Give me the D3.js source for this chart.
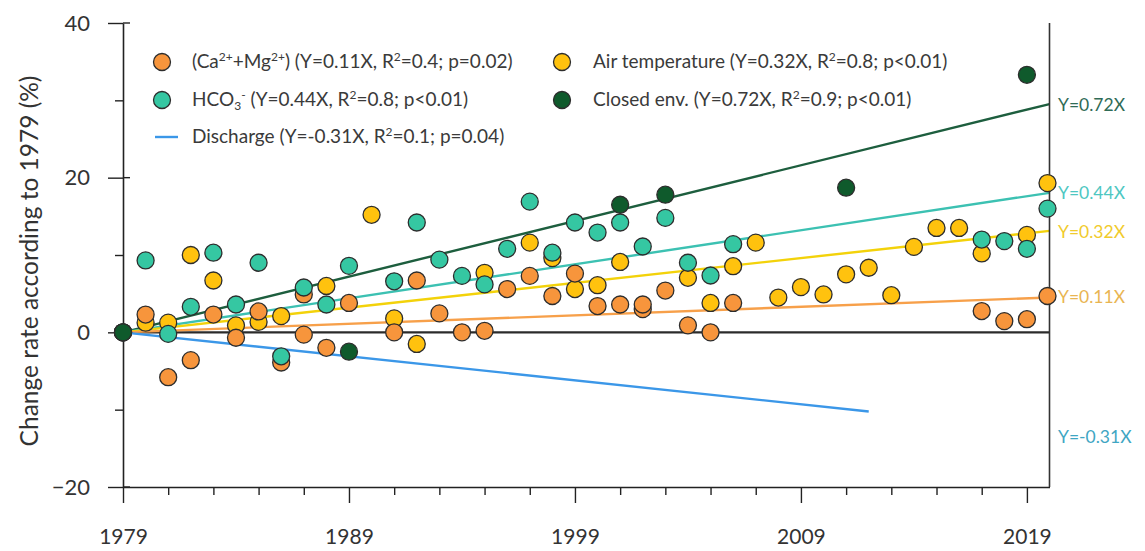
<!DOCTYPE html>
<html><head><meta charset="utf-8">
<script src="https://cdn.jsdelivr.net/npm/d3@7"></script>
<style>body{margin:0;background:#fff}svg{display:block}</style>
</head><body>
<svg id="c" width="1145" height="551"></svg>
<script>
// ---- data ----
const caMgYears  = [1979,1980,1981,1982,1983,1984,1985,1986,1987,1987,1988,1989,1991,1992,1993,1994,1995,1996,1997,1998,1999,2000,2001,2002,2002,2003,2004,2005,2006,2017,2018,2019,2020];
const caMgValues = [0,2.3,-5.8,-3.6,2.3,-0.7,2.7,-3.9,4.9,-0.3,-2.0,3.8,0.0,6.7,2.45,0.0,0.2,5.6,7.3,4.7,7.6,3.4,3.6,3.0,3.6,5.4,0.9,0.0,3.8,2.75,1.45,1.7,4.7];
const hco3Years  = [1979,1980,1981,1982,1983,1984,1985,1986,1987,1988,1989,1991,1992,1993,1994,1995,1996,1997,1998,1999,2000,2001,2002,2003,2004,2005,2006,2017,2018,2019,2020];
const hco3Values = [0,9.3,-0.2,3.3,10.3,3.6,9.0,-3.1,5.8,3.6,8.6,6.6,14.2,9.4,7.3,6.2,10.8,16.9,10.3,14.2,12.9,14.2,11.1,14.8,9.0,7.35,11.4,12.0,11.8,10.8,16.0];
const airYears   = [1979,1980,1981,1982,1983,1984,1985,1986,1988,1990,1991,1992,1995,1997,1998,1999,2000,2001,2004,2005,2006,2007,2008,2009,2010,2011,2012,2013,2014,2015,2016,2017,2019,2020];
const airValues  = [0,1.25,1.25,10.0,6.7,0.9,1.35,2.1,6.0,15.2,1.8,-1.5,7.7,11.6,9.6,5.6,6.1,9.1,7.05,3.8,8.55,11.6,4.5,5.85,4.9,7.5,8.35,4.8,11.05,13.5,13.5,10.2,12.6,19.3];
const closedYears  = [1979,1989,2001,2003,2011,2019];
const closedValues = [0,-2.5,16.5,17.8,18.7,33.3];

const trendNames  = ["Closed env.","HCO3","Air temperature","Ca+Mg","Discharge"];
const trendSlopes = [0.72,0.44,0.32,0.11,-0.31];
const trendEnd    = [2020,2020,2020,2020,2012];
const trendLabels = ["Y=0.72X","Y=0.44X","Y=0.32X","Y=0.11X","Y=-0.31X"];

const yTicksMajor = [-20,0,20,40];
const yTicksMinor = [-10,10,30];
const xTicksMajor = [1979,1989,1999,2009,2019];
const xTicksMinor = d3.range(1981,2019,2).filter(v=>!xTicksMajor.includes(v));
const yTitle = "Change rate according to 1979 (%)";

// ---- styles ----
const FONT = "Lato, 'Open Sans', sans-serif";
const col = {ca:"#f7953c", hco3:"#35c7a2", air:"#ffc20e", closed:"#0f5a2c"};
const lineCol = ["#1d5e3e","#3cc1b2","#f3d20a","#f7a04a","#3b97e8"];
const labCol  = ["#2f6b56","#4ec7c2","#f1cb2c","#e9b552","#3fa6c3"];

const svg = d3.select("#c");
const x = d3.scaleLinear().domain([1979,2020]).range([123,1049.5]);
const y = d3.scaleLinear().domain([-20,40]).range([487,23]);

// zero line
svg.append("line").attr("x1",x(1979)).attr("x2",x(2020)).attr("y1",y(0)).attr("y2",y(0))
  .attr("stroke","#2b2b2b").attr("stroke-width",2.2);

// trend lines
trendSlopes.forEach((s,i)=>{
  svg.append("line").attr("x1",x(1979)).attr("y1",y(0))
    .attr("x2",x(trendEnd[i])).attr("y2",y(s*(trendEnd[i]-1979)))
    .attr("stroke",lineCol[i]).attr("stroke-width",2.4);
});

// axes
const gL = svg.append("g").attr("transform",`translate(${x(1979)},0)`);
gL.call(d3.axisLeft(y).tickValues(yTicksMajor).tickSizeInner(15).tickSizeOuter(0).tickPadding(18));
gL.selectAll("text").attr("font-family",FONT).attr("font-size",22).attr("fill","#333");
gL.select(".domain").attr("stroke","#222").attr("stroke-width",1.6);
gL.selectAll(".tick line").attr("stroke","#222").attr("stroke-width",1.4);
yTicksMajor.forEach(v=>gL.append("line").attr("x1",0).attr("x2",7).attr("y1",y(v)).attr("y2",y(v)).attr("stroke","#222").attr("stroke-width",1.4));
const gLm = svg.append("g").attr("transform",`translate(${x(1979)},0)`);
gLm.call(d3.axisLeft(y).tickValues(yTicksMinor).tickSize(8).tickFormat(""));
gLm.select(".domain").remove();
gLm.selectAll(".tick line").attr("stroke","#222").attr("stroke-width",1.4);

const gB = svg.append("g").attr("transform",`translate(0,${y(-20)})`);
gB.call(d3.axisBottom(x).tickValues(xTicksMajor).tickFormat(d3.format("d")).tickSizeInner(16).tickSizeOuter(0).tickPadding(26));
gB.selectAll("text").attr("font-family",FONT).attr("font-size",21).attr("fill","#333");
gB.select(".domain").attr("stroke","#222").attr("stroke-width",1.6);
gB.selectAll(".tick line").attr("stroke","#222").attr("stroke-width",1.4);
const gBm = svg.append("g").attr("transform",`translate(0,${y(-20)})`);
gBm.call(d3.axisBottom(x).tickValues(xTicksMinor).tickSize(8).tickFormat(""));
gBm.select(".domain").remove();
gBm.selectAll(".tick line").attr("stroke","#222").attr("stroke-width",1.4);

// right border
svg.append("line").attr("x1",x(2020)).attr("x2",x(2020)).attr("y1",y(40)).attr("y2",y(-20))
  .attr("stroke","#333").attr("stroke-width",1.6);

// y title
svg.append("text").attr("transform",`translate(38,${(y(40)+y(-20))/2 + 6}) rotate(-90)`)
  .attr("text-anchor","middle").attr("font-family",FONT).attr("font-size",24.5).attr("fill","#333").text(yTitle);

// points
const R = 8.5;
function pts(years, vals, c){
  svg.append("g").selectAll("circle").data(years.map((yr,i)=>[yr,vals[i]])).join("circle")
    .attr("cx",d=>Math.min(x(d[0]),1047.5)).attr("cy",d=>y(d[1])).attr("r",R)
    .attr("fill",c).attr("stroke","#2d2d2d").attr("stroke-width",1.3);
}
pts(airYears, airValues, col.air);
pts(caMgYears, caMgValues, col.ca);
pts(hco3Years, hco3Values, col.hco3);
pts(closedYears, closedValues, col.closed);

// trend labels
const labY = [105,193,232,297,437];
trendLabels.forEach((t,i)=>{
  svg.append("text").attr("x",1058).attr("y",labY[i]+6).attr("font-family",FONT).attr("font-size",17.5)
    .attr("fill",labCol[i]).text(t);
});

// legend
function rich(xp, yp, segs){
  const t = svg.append("text").attr("x",xp).attr("y",yp).attr("font-family",FONT).attr("font-size",19).attr("fill","#3a3a3a");
  let shift = 0;
  segs.forEach(s=>{
    const target = s.sup ? -7 : s.sub ? 4 : 0;
    const ts = t.append("tspan").attr("dy", target - shift).text(s.t);
    if (s.sup || s.sub) ts.attr("font-size",12);
    shift = target;
  });
}
const legY1 = 62, legY2 = 100, legY3 = 137;
svg.append("circle").attr("cx",162).attr("cy",legY1).attr("r",R).attr("fill",col.ca).attr("stroke","#2d2d2d").attr("stroke-width",1.3);
rich(192, legY1+6, [{t:"(Ca"},{t:"2+",sup:1},{t:"+Mg"},{t:"2+",sup:1},{t:") (Y=0.11X, R"},{t:"2",sup:1},{t:"=0.4; p=0.02)"}]);
svg.append("circle").attr("cx",162).attr("cy",legY2).attr("r",R).attr("fill",col.hco3).attr("stroke","#2d2d2d").attr("stroke-width",1.3);
rich(192, legY2+6, [{t:"HCO"},{t:"3",sub:1},{t:"-",sup:1},{t:" (Y=0.44X, R"},{t:"2",sup:1},{t:"=0.8; p<0.01)"}]);
svg.append("line").attr("x1",155).attr("x2",178).attr("y1",legY3).attr("y2",legY3).attr("stroke",lineCol[4]).attr("stroke-width",2.4);
rich(192, legY3+6, [{t:"Discharge (Y=-0.31X, R"},{t:"2",sup:1},{t:"=0.1; p=0.04)"}]);
svg.append("circle").attr("cx",562).attr("cy",legY1).attr("r",R).attr("fill",col.air).attr("stroke","#2d2d2d").attr("stroke-width",1.3);
rich(593, legY1+6, [{t:"Air temperature (Y=0.32X, R"},{t:"2",sup:1},{t:"=0.8; p<0.01)"}]);
svg.append("circle").attr("cx",562).attr("cy",legY2).attr("r",R).attr("fill",col.closed).attr("stroke","#2d2d2d").attr("stroke-width",1.3);
rich(593, legY2+6, [{t:"Closed env. (Y=0.72X, R"},{t:"2",sup:1},{t:"=0.9; p<0.01)"}]);
</script>
</body></html>
